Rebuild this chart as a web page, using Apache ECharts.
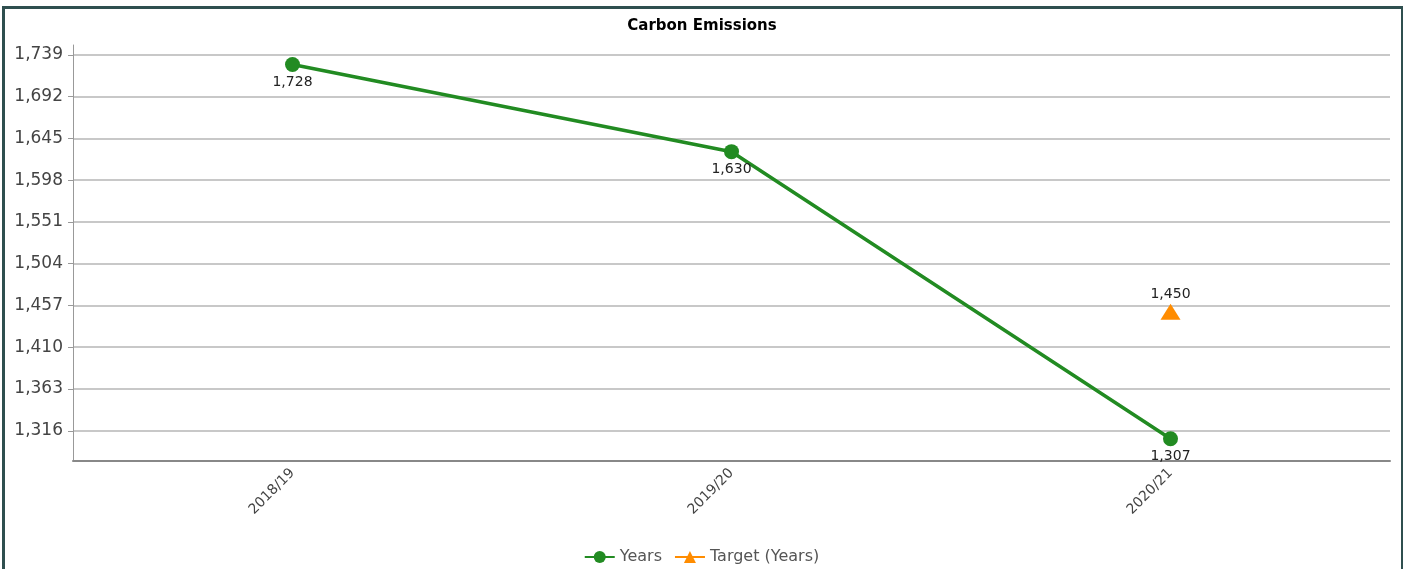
<!DOCTYPE html>
<html>
<head>
<meta charset="utf-8">
<script src="https://cdn.jsdelivr.net/npm/echarts@6/dist/echarts.min.js"></script>
<style>
  html, body { margin: 0; padding: 0; background: #fff; }
  #chart { position: absolute; left: 0; top: 0; width: 1403px; height: 569px; }
  #frame {
    position: absolute; left: 2px; top: 6px; width: 1396px; height: 600px;
    border: 3px solid #2f4f4f; pointer-events: none;
  }
</style>
</head>
<body>
<div id="chart"></div>
<div id="frame"></div>
<script>
// categories and values
const years = ["2018/19", "2019/20", "2020/21"];
const emissions = [1728, 1630, 1307];
const target = [null, null, 1450];
const yTicks = [1316, 1363, 1410, 1457, 1504, 1551, 1598, 1645, 1692, 1739];

const fontFamily = "DejaVu Sans, Verdana, sans-serif";

function fmt(v) {
  return v.toLocaleString("en-US");
}

let myChart = echarts.init(document.getElementById("chart"));
myChart.setOption({
  animation: false,
  textStyle: { fontFamily: fontFamily },
  title: {
    text: "Carbon Emissions",
    left: 697,
    textAlign: "center",
    top: 14,
    textStyle: { fontSize: 15, fontWeight: "bold", color: "#000", fontFamily: fontFamily }
  },
  legend: {
    bottom: -1,
    left: "center",
    itemWidth: 30,
    itemHeight: 15,
    itemGap: 12,
    textStyle: { fontSize: 16, color: "#555", fontFamily: fontFamily },
    data: ["Years", "Target (Years)"]
  },
  grid: { left: 73, right: 13, top: 45, bottom: 108 },
  xAxis: {
    type: "category",
    data: years,
    axisLine: { lineStyle: { color: "#888", width: 2 } },
    axisTick: { alignWithLabel: true, length: 5, lineStyle: { color: "#888" } },
    axisLabel: { rotate: 45, fontSize: 14, color: "#444", margin: 10 },
    splitLine: { show: false }
  },
  yAxis: {
    type: "value",
    min: 1282,
    max: 1750,
    axisLine: { show: true, lineStyle: { color: "#999" } },
    axisTick: { show: true, length: 5, customValues: yTicks, lineStyle: { color: "#999" } },
    axisLabel: {
      customValues: yTicks,
      fontSize: 17,
      color: "#444",
      margin: 10,
      formatter: fmt
    },
    splitLine: { show: true, lineStyle: { color: "#c8c8c8", width: 2 } }
  },
  series: [
    {
      name: "Years",
      type: "line",
      data: emissions,
      symbol: "circle",
      symbolSize: 15,
      itemStyle: { color: "#228b22" },
      lineStyle: { color: "#228b22", width: 3.5 },
      label: {
        show: true,
        position: "bottom",
        distance: 3,
        fontSize: 14,
        color: "#222",
        formatter: function (p) { return fmt(p.value); }
      }
    },
    {
      name: "Target (Years)",
      type: "line",
      data: target,
      symbol: "triangle",
      symbolSize: [20, 16],
      itemStyle: { color: "#ff8c00" },
      lineStyle: { color: "#ff8c00", width: 3.5 },
      label: {
        show: true,
        position: "top",
        distance: 2,
        fontSize: 14,
        color: "#222",
        formatter: function (p) { return fmt(p.value); }
      }
    }
  ]
});
window.onresize = function () {
  myChart.resize();
};
</script>
</body>
</html>
